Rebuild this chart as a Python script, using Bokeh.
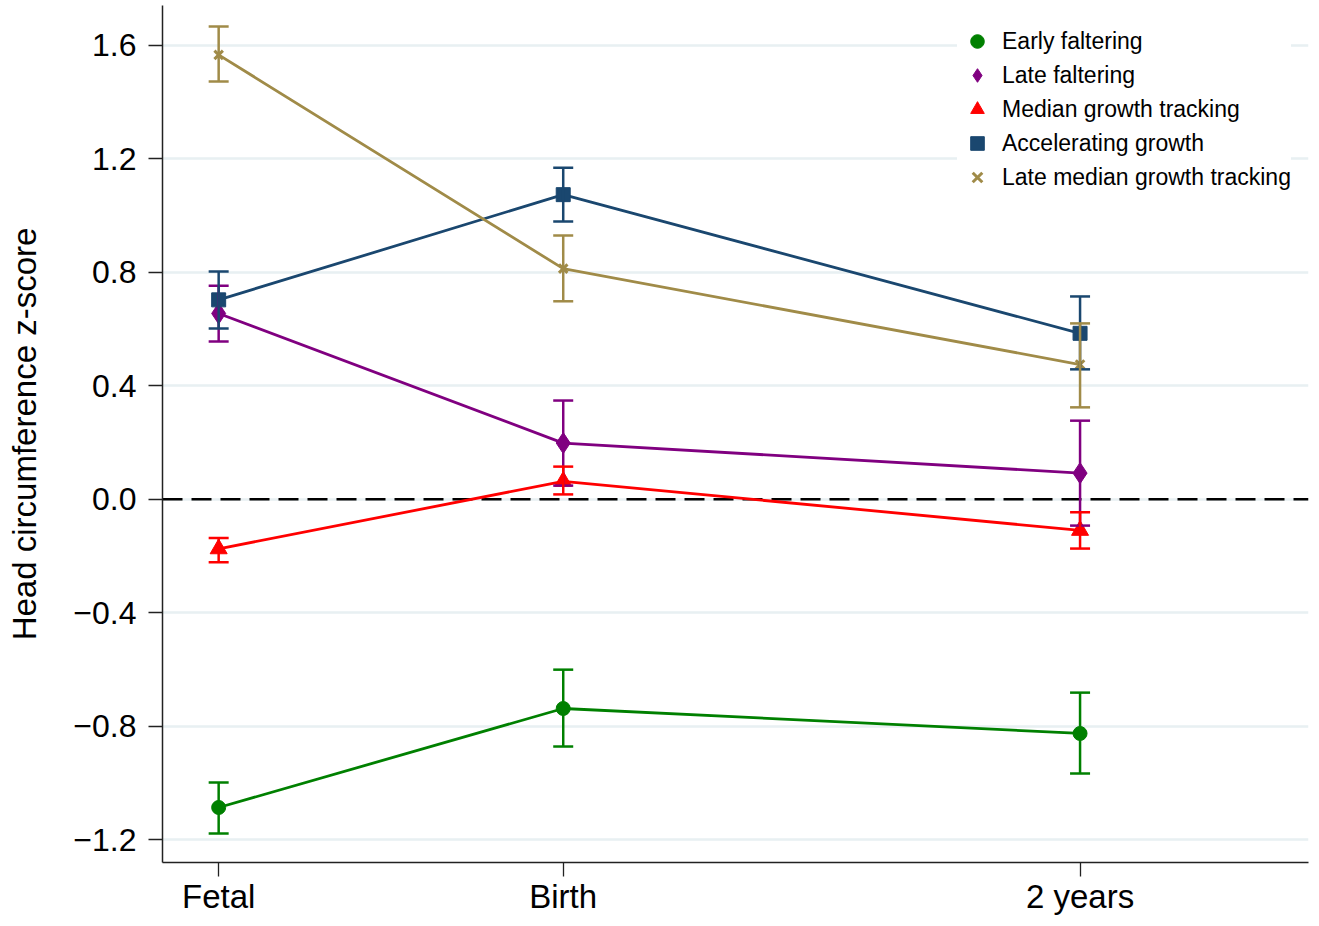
from bokeh.plotting import figure
from bokeh.models import (ColumnDataSource, Whisker, TeeHead, Span, Legend, LegendItem,
                          FixedTicker, Range1d)
from bokeh.embed import file_html
from bokeh.resources import INLINE

# ---- data ----
stages = ["Fetal", "Birth", "2 years"]
stage_pos = [1, 2, 3.5]

series_names = ["Early faltering", "Late faltering", "Median growth tracking",
                "Accelerating growth", "Late median growth tracking"]

early_mean = [-1.087, -0.738, -0.826]
early_lo = [-1.179, -0.872, -0.967]
early_hi = [-0.999, -0.601, -0.682]

late_mean = [0.655, 0.198, 0.092]
late_lo = [0.556, 0.048, -0.093]
late_hi = [0.753, 0.348, 0.277]

median_mean = [-0.175, 0.063, -0.110]
median_lo = [-0.222, 0.017, -0.174]
median_hi = [-0.137, 0.115, -0.046]

accel_mean = [0.703, 1.074, 0.585]
accel_lo = [0.602, 0.979, 0.458]
accel_hi = [0.803, 1.169, 0.715]

latemed_mean = [1.567, 0.813, 0.475]
latemed_lo = [1.473, 0.698, 0.324]
latemed_hi = [1.667, 0.930, 0.620]

y_ticks = [-1.2, -0.8, -0.4, 0.0, 0.4, 0.8, 1.2, 1.6]
y_tick_labels = ["\u22121.2", "\u22120.8", "\u22120.4", "0.0", "0.4", "0.8", "1.2", "1.6"]

# ---- styles ----
colors = ["#008000", "#800080", "#ff0000", "#1a476f", "#a08b48"]
markers = ["circle", "diamond", "triangle", "square", "x"]
msizes = [14, 21, 17, 14, 12]
FONT = "Liberation Sans"

p = figure(width=1311, height=918, output_backend="svg", toolbar_location=None,
           x_range=Range1d(0.837, 4.163), y_range=Range1d(-1.281, 1.741),
           min_border_left=162, min_border_right=3, min_border_top=5, min_border_bottom=56)
p.outline_line_color = None
p.background_fill_color = "white"
p.border_fill_color = "white"

p.xgrid.grid_line_color = None
p.ygrid.grid_line_color = "#e8f0f2"
p.ygrid.grid_line_width = 2.5
p.ygrid.ticker = FixedTicker(ticks=y_ticks)

p.yaxis.ticker = FixedTicker(ticks=y_ticks)
p.yaxis.major_label_overrides = {v: s for v, s in zip(y_ticks, y_tick_labels)}
p.xaxis.ticker = FixedTicker(ticks=stage_pos)
p.xaxis.major_label_overrides = {v: s for v, s in zip(stage_pos, stages)}

for ax in (p.xaxis, p.yaxis):
    ax.axis_line_color = "#222222"
    ax.axis_line_width = 1.5
    ax.major_tick_line_color = "#222222"
    ax.major_tick_line_width = 1.3
    ax.major_tick_in = 0
    ax.minor_tick_line_color = None
    ax.major_label_text_font = FONT
    ax.major_label_text_color = "black"
    ax.axis_label_text_font = FONT
    ax.axis_label_text_font_style = "normal"
    ax.axis_label_text_color = "black"

p.yaxis.major_tick_out = 14
p.yaxis.major_label_text_font_size = "32px"
p.yaxis.major_label_standoff = 12
p.yaxis.axis_label = "Head circumference z-score"
p.yaxis.axis_label_text_font_size = "33px"
p.yaxis.axis_label_standoff = 27

p.xaxis.major_tick_out = 14
p.xaxis.major_label_text_font_size = "33px"
p.xaxis.major_label_standoff = 1

zero = Span(location=0, dimension="width", line_color="black", line_width=2.5,
            line_dash="20 9", level="underlay")
p.add_layout(zero)

all_data = [
    (early_mean, early_lo, early_hi),
    (late_mean, late_lo, late_hi),
    (median_mean, median_lo, median_hi),
    (accel_mean, accel_lo, accel_hi),
    (latemed_mean, latemed_lo, latemed_hi),
]

items = []
for name, (m, lo, hi), c, mk, ms in zip(series_names, all_data, colors, markers, msizes):
    src = ColumnDataSource(dict(x=stage_pos, y=m, lo=lo, hi=hi))
    w = Whisker(source=src, base="x", upper="hi", lower="lo", dimension="height",
                line_color=c, line_width=2.5,
                upper_head=TeeHead(size=20, line_color=c, line_width=2.5),
                lower_head=TeeHead(size=20, line_color=c, line_width=2.5),
                level="glyph")
    p.add_layout(w)
    p.line("x", "y", source=src, line_color=c, line_width=2.8)
    kw = dict(line_width=3) if mk == "x" else dict(line_width=1)
    r = p.scatter("x", "y", source=src, marker=mk, size=ms,
                  fill_color=c, line_color=c, **kw)
    items.append(LegendItem(label=name, renderers=[r]))

legend = Legend(items=items, location=(795, 668),
                label_text_font=FONT, label_text_font_size="23px", label_text_color="black",
                glyph_width=40, glyph_height=34, label_height=30, label_standoff=5,
                spacing=0, padding=2, margin=0,
                border_line_color=None, background_fill_color="white", background_fill_alpha=1.0)
p.add_layout(legend)

open("out.html", "w").write(file_html(p, INLINE))
